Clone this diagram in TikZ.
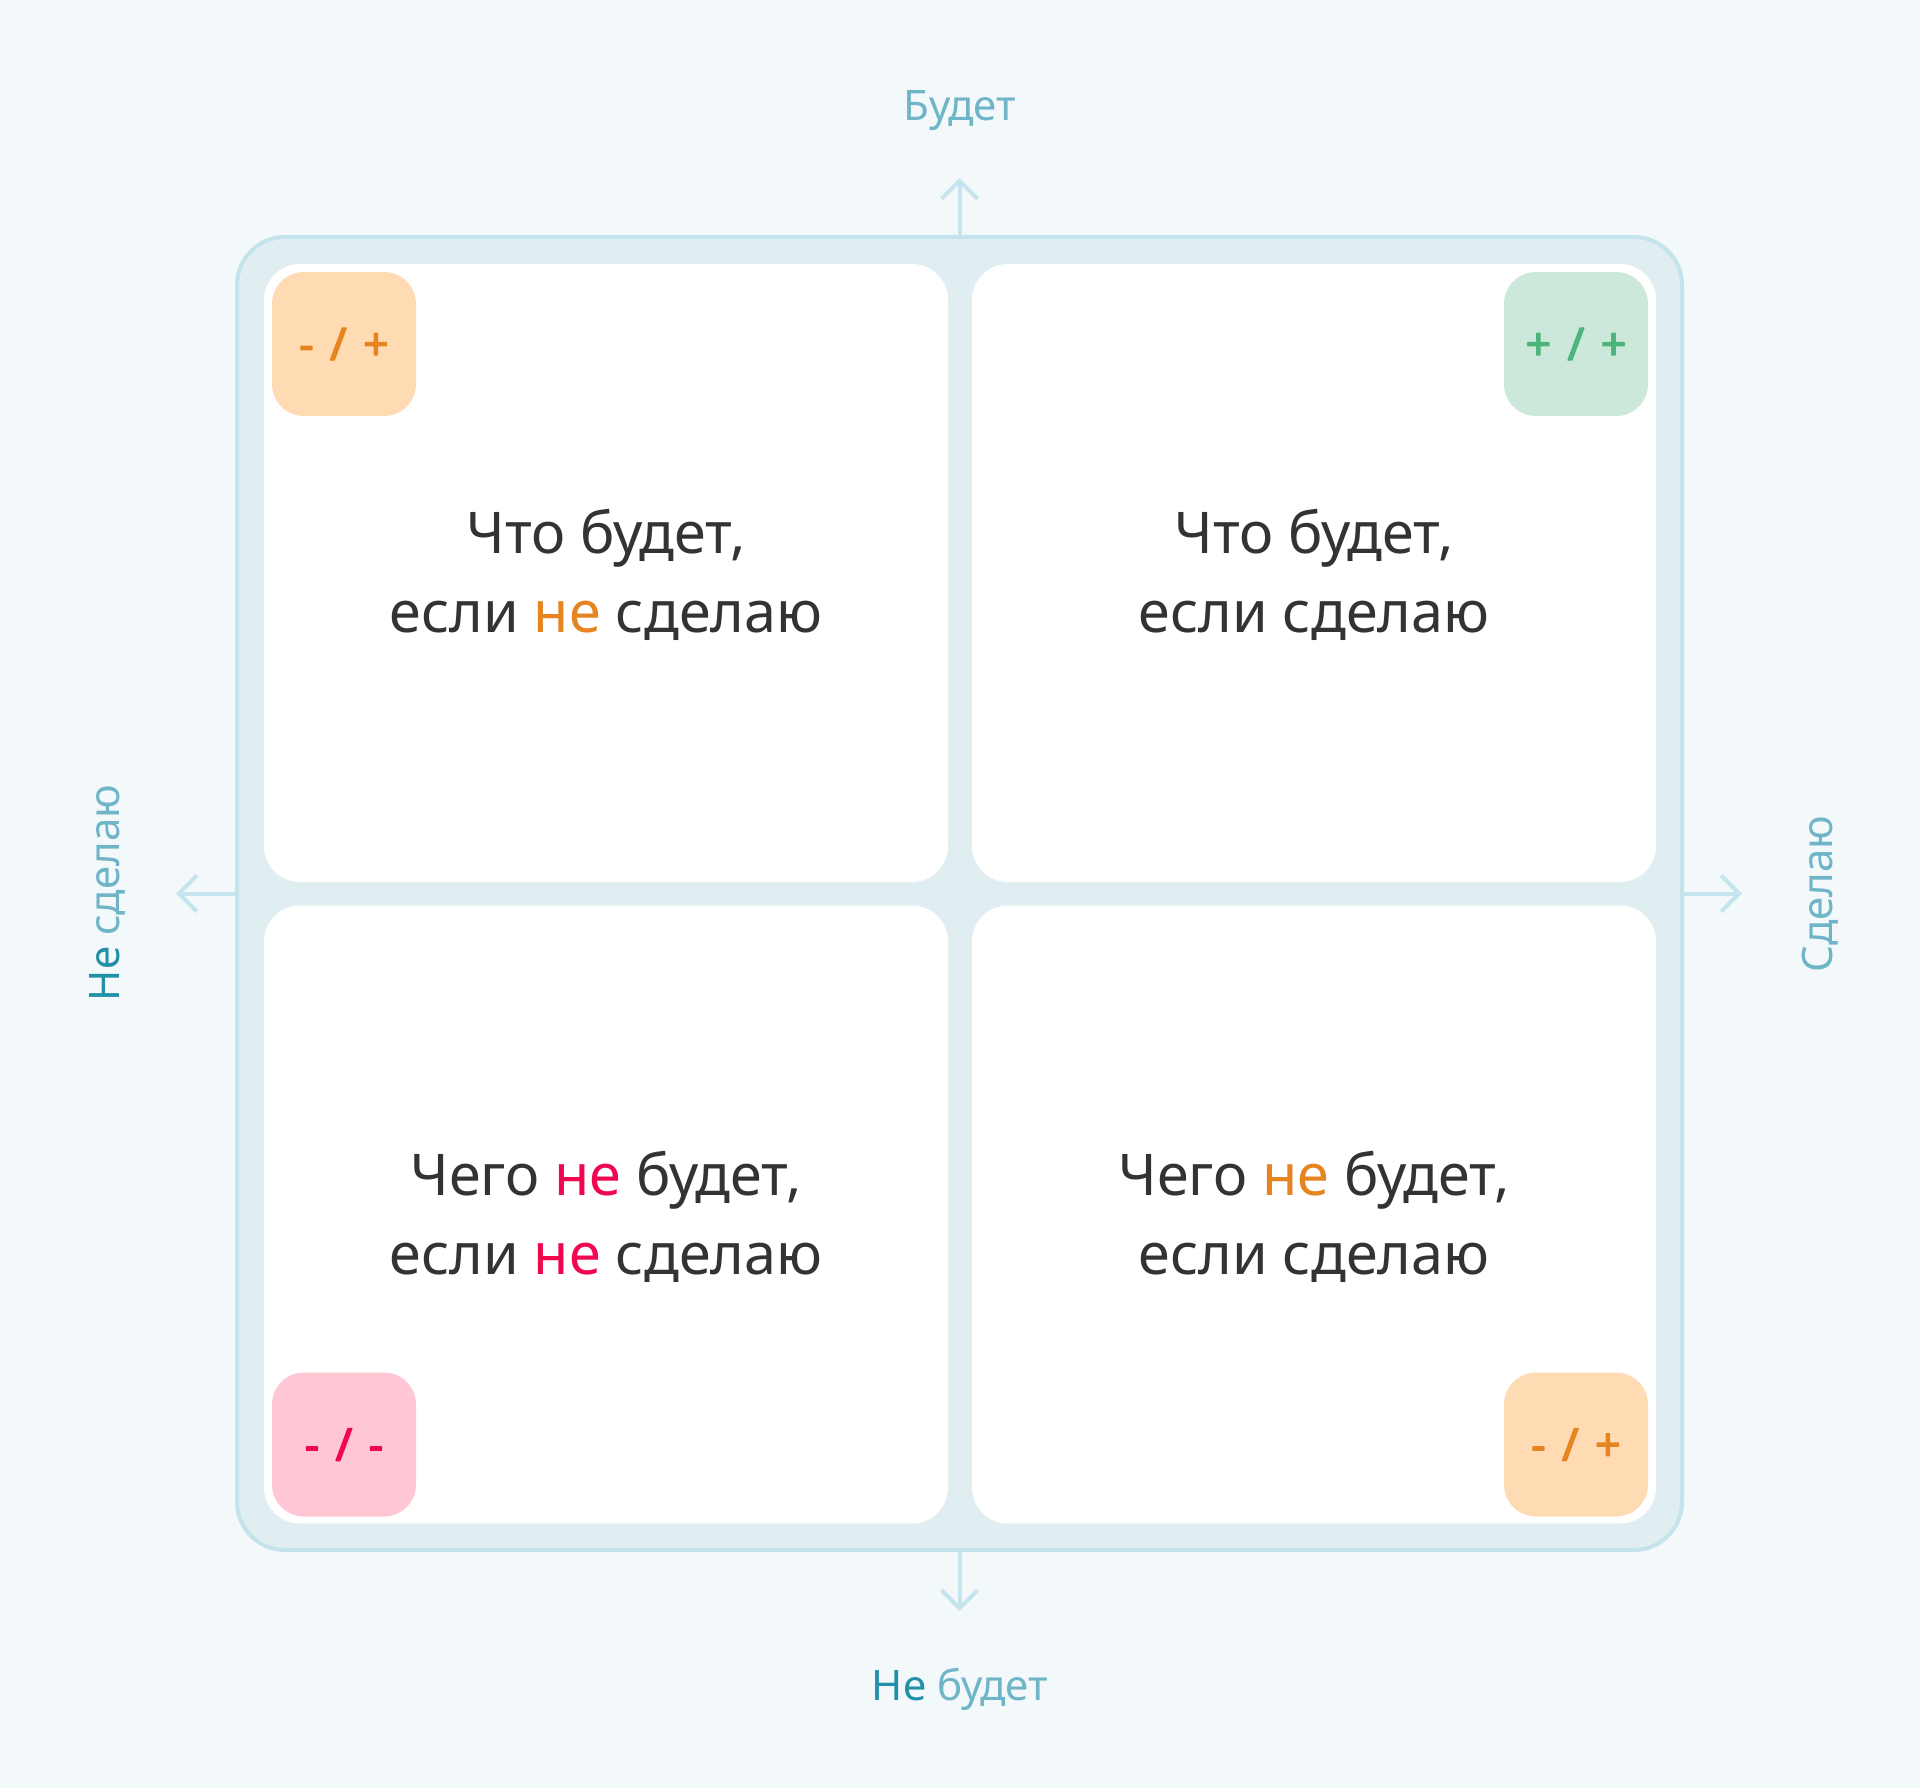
\documentclass[tikz,border=0pt]{standalone}
\usepackage{fontspec}
\setmainfont{Noto Sans}
\newfontfamily\badgefont{Noto Sans}[FakeBold=3,WordSpace=1.4]
\usetikzlibrary{arrows.meta}
\definecolor{bg}{HTML}{F3F8FB}
\definecolor{framefill}{HTML}{E0EEF2}
\definecolor{frameline}{HTML}{C4E3EB}
\definecolor{axis}{HTML}{C5E5EE}
\definecolor{labellight}{HTML}{6FB4C7}
\definecolor{labeldark}{HTML}{2190A8}
\definecolor{ink}{HTML}{333333}
\definecolor{orng}{HTML}{E6841F}
\definecolor{orngfill}{HTML}{FFDBB4}
\definecolor{grn}{HTML}{4DB57C}
\definecolor{grnfill}{HTML}{CCE8DA}
\definecolor{pnk}{HTML}{F0074F}
\definecolor{pnkfill}{HTML}{FFC6D3}
\begin{document}
\begin{tikzpicture}[x=1pt, y=-1pt, line cap=round, line join=round, >={Straight Barb[length=18pt,width=36pt]},
  axisline/.style={draw=axis, line width=4pt},
  card/.style={fill=white, rounded corners=36pt, minimum width=684pt, minimum height=618pt, inner sep=0pt},
  cardtext/.style={align=center, text=ink, inner sep=0pt, font=\fontsize{57.5}{79}\selectfont},
  badge/.style={rounded corners=32pt, minimum size=144pt, inner sep=0pt, font=\fontsize{45}{50}\badgefont},
  axislabel/.style={text=labellight, inner sep=0pt, anchor=base, font=\fontsize{42}{50}\selectfont}]
\fill[bg] (0,0) rectangle (1920,1788);
\node[draw=frameline, line width=4pt, fill=framefill, rounded corners=48pt, minimum width=1445pt, minimum height=1313pt] (frame) at (959.5,893.5) {};
% quadrants
\node[card] (tl) at (606,573) {};
\node[card] (tr) at (1314,573) {};
\node[card] (bl) at (606,1214.5) {};
\node[card] (br) at (1314,1214.5) {};
\node[cardtext] (tltext) at ([yshift=-2]tl.center) {Что будет,\\если \textcolor{orng}{не} сделаю};
\node[cardtext] (trtext) at ([yshift=-2]tr.center) {Что будет,\\если сделаю};
\node[cardtext] (bltext) at ([yshift=-2]bl.center) {Чего \textcolor{pnk}{не} будет,\\если \textcolor{pnk}{не} сделаю};
\node[cardtext] (brtext) at ([yshift=-2]br.center) {Чего \textcolor{orng}{не} будет,\\если сделаю};
\foreach \c/\a/\s/\f/\t/\m in {tl/north west/{(8,8)}/orngfill/orng/{- / +}, tr/north east/{(-8,8)}/grnfill/grn/{+ / +},
  bl/south west/{(8,-7)}/pnkfill/pnk/{- / -}, br/south east/{(-8,-7)}/orngfill/orng/{- / +}}
  \node[badge, fill=\f, text=\t, anchor=\a] (\c badge) at ([shift=\s]\c.\a) {\m};
% axes
\path (frame.north)+(0,-57) coordinate (up) (frame.south)+(0,59) coordinate (down)
  (frame.west)+(-59,0) coordinate (left) (frame.east)+(58,0) coordinate (right);
\foreach \a/\p in {north/up, south/down, west/left, east/right} \draw[axisline,->] (frame.\a)--(\p);
\node[axislabel] (will) at (960,120) {Будет};
\node[axislabel] (wont) at (960,1700) {\textcolor{labeldark}{Не} будет};
\node[axislabel, rotate=90] (dont) at (119,893) {\textcolor{labeldark}{Не} сделаю};
\node[axislabel, rotate=90] (do) at (1832,894) {Сделаю};
\end{tikzpicture}
\end{document}
